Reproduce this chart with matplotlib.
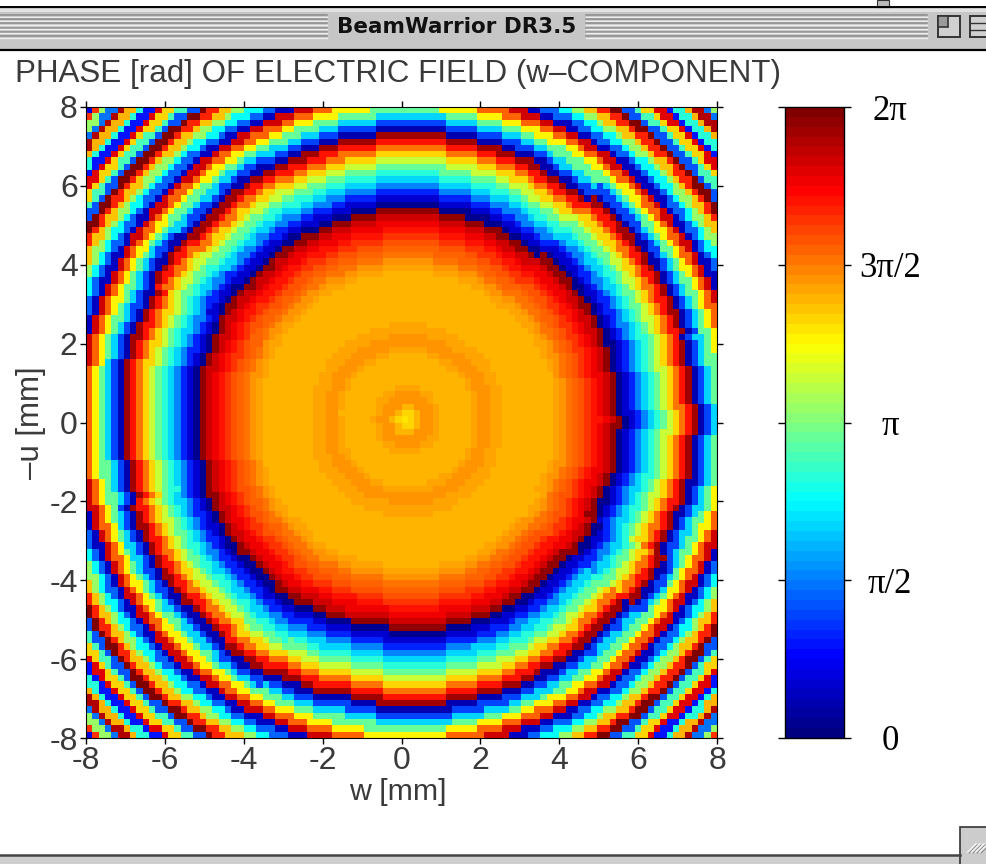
import numpy as np
import matplotlib
matplotlib.use("Agg")
import matplotlib.pyplot as plt
from matplotlib.colors import LinearSegmentedColormap
from matplotlib.patches import Rectangle

# phase read along the rings, as a fraction of the 0..2pi colour range, one value per 0.16 mm of radius
phase_turns = [
    .645, .66, .70, .72, .725, .715, .70, .70, .70, .70, .70, .705, .72, .725, .715, .705,
    .70, .70, .70, .70, .70, .70, .70, .70, .71, .73, .755, .775, .795, .82, .85, .88, .92, .97,
    .02, .09, .17, .25, .33, .41, .47, .57, .67, .76, .85, .96,
    .06, .19, .33, .47, .63, .77, .92,
    .07, .23, .38, .53, .68, .84, .99,
    .21, .44, .67, .90,
    .15, .42, .69, .95,
    .24, .53, .82,
    .10, .40,
]
# radius of the second dark ring in mm, per 11.25 degree sector counter-clockwise from +w
ring_radius = [7.30, 7.26, 7.34, 7.36, 7.37, 7.20, 7.28, 7.27,
               7.28, 7.25, 7.22, 7.27, 7.20, 7.32, 7.20, 7.25,
               7.17, 7.17, 7.29, 7.32, 7.25, 7.35, 7.24, 7.17,
               7.22, 7.25, 7.28, 7.25, 7.20, 7.38, 7.21, 7.30]
ring_mean = 7.27

x_ticks = [-8, -6, -4, -2, 0, 2, 4, 6, 8]
y_ticks = [-8, -6, -4, -2, 0, 2, 4, 6, 8]
cbar_ticks = [0, np.pi / 2, np.pi, 3 * np.pi / 2, 2 * np.pi]
cbar_labels = ["0", "π/2", "π", "3π/2", "2π"]

W, H = 986, 864
n = 100
sans = "Liberation Sans"
serif = "Liberation Serif"
ink = "#3a3a3a"
plt.rcParams["axes.unicode_minus"] = False

# the old MATLAB jet, matplotlib's own differs a bit
old_jet = LinearSegmentedColormap.from_list("old_jet", [
    (0, (0, 0, .5)), (.125, (0, 0, 1)), (.375, (0, 1, 1)),
    (.625, (1, 1, 0)), (.875, (1, 0, 0)), (1, (.5, 0, 0))], N=64)

fig = plt.figure(figsize=(W / 100, H / 100), dpi=100, facecolor="white")

def pix_axes(x0, y0, x1, y1):
    return fig.add_axes([x0 / W, 1 - y1 / H, (x1 - x0) / W, (y1 - y0) / H])

# window chrome
bg = fig.add_axes([0, 0, 1, 1])
bg.set_xlim(0, W)
bg.set_ylim(H, 0)
bg.axis("off")
bg.add_patch(Rectangle((0, 7), W, 42, fc="#c6c6c6", ec="none"))
bg.add_patch(Rectangle((0, 9), W, 3, fc="#e2e2e2", ec="none"))
bg.plot([0, W], [7, 7], color="black", lw=1.4)
bg.plot([0, W], [49.5, 49.5], color="black", lw=1.6)
bg.add_patch(Rectangle((877, 0), 12, 6.5, fc="#bbbbbb", ec="#333333", lw=0.8))
for y in np.arange(15, 38, 4.2):
    bg.plot([0, 327], [y, y], color="#8a8a8a", lw=1.1)
    bg.plot([0, 327], [y + 1.6, y + 1.6], color="#eeeeee", lw=1.0)
    bg.plot([586, 927], [y, y], color="#8a8a8a", lw=1.1)
    bg.plot([586, 927], [y + 1.6, y + 1.6], color="#eeeeee", lw=1.0)
bg.add_patch(Rectangle((938, 16), 22, 21, fc="#d0d0d0", ec="#333333", lw=1.4))
bg.add_patch(Rectangle((938, 16), 10, 11, fc="#9a9a9a", ec="#333333", lw=1.2))
bg.add_patch(Rectangle((970, 16), 24, 21, fc="#d0d0d0", ec="#333333", lw=1.4))
bg.plot([970, 986], [23, 23], color="#333333", lw=1.0)
bg.plot([970, 986], [30, 30], color="#333333", lw=1.0)
bg.text(457, 27, "BeamWarrior DR3.5", family="DejaVu Sans", weight="bold", fontsize=15.5,
        ha="center", va="center", color="#111111")
bg.add_patch(Rectangle((0, 856), W, 8, fc="#cfcfcf", ec="none"))
bg.plot([0, 960], [855, 855], color="#444444", lw=1.8)
bg.add_patch(Rectangle((960, 827), 30, 40, fc="#cccccc", ec="#333333", lw=1.2))
for k in range(4):
    bg.plot([968 + k * 4, 976 + k * 4], [852, 844], color="#f2f2f2", lw=1.4)
    bg.plot([969 + k * 4, 977 + k * 4], [853, 845], color="#8a8a8a", lw=0.8)

bg.text(15, 74, "PHASE [rad] OF ELECTRIC FIELD (w–COMPONENT)", family=sans, fontsize=22.6,
        ha="left", va="center", color=ink)
bg.text(398, 792, "w [mm]", family=sans, fontsize=21.8, ha="center", va="center", color=ink)

# heat map
ax = pix_axes(86, 107, 717, 738)
edges = np.linspace(-8, 8, n + 1)
centers = (edges[:-1] + edges[1:]) / 2
ww, uu = np.meshgrid(centers, centers)
ww0 = ww - 0.14
uu0 = uu - 0.063
rad = np.hypot(ww0, uu0)
ang = np.mod(np.arctan2(uu0, ww0), 2 * np.pi)
sector = np.round(ang / (2 * np.pi) * len(ring_radius)).astype(int) % len(ring_radius)

# the outer rings are smoother than the second one, so they get a sector average
inner_r = np.array(ring_radius)
outer_r = sum(np.roll(inner_r, k) for k in (-2, -1, 0, 1, 2)) / 5
ring_r = np.where(rad < 7.8, inner_r[sector], outer_r[sector])
r_eff = rad * ring_mean / ring_r
idx = np.clip(np.round(r_eff / 0.16).astype(int), 0, len(phase_turns) - 1)
phase = np.array(phase_turns)[idx] * 2 * np.pi

mesh = ax.pcolormesh(edges, edges, phase, cmap=old_jet, vmin=0, vmax=2 * np.pi)
ax.set_xlim(-8, 8)
ax.set_ylim(-8, 8)
ax.set_xticks(x_ticks)
ax.set_yticks(y_ticks)
ax.tick_params(top=True, right=True, direction="out", length=4, width=1, labelsize=23,
               labelcolor=ink, pad=2)
for lab in ax.get_xticklabels() + ax.get_yticklabels():
    lab.set_family(sans)
ax.set_ylabel("–u [mm]", family=sans, fontsize=22.5, color=ink, labelpad=2)

# colour bar
cax = pix_axes(785, 107, 844, 738)
cb = fig.colorbar(mesh, cax=cax)
cb.set_ticks(cbar_ticks)
cb.set_ticklabels(cbar_labels)
cax.tick_params(left=True, right=True, direction="out", length=5, width=1, pad=28, labelsize=25)
for lab in cax.get_yticklabels():
    lab.set_family(serif)
    lab.set_ha("center")
cb.outline.set_linewidth(1)

fig.savefig("out.png", dpi=100)
